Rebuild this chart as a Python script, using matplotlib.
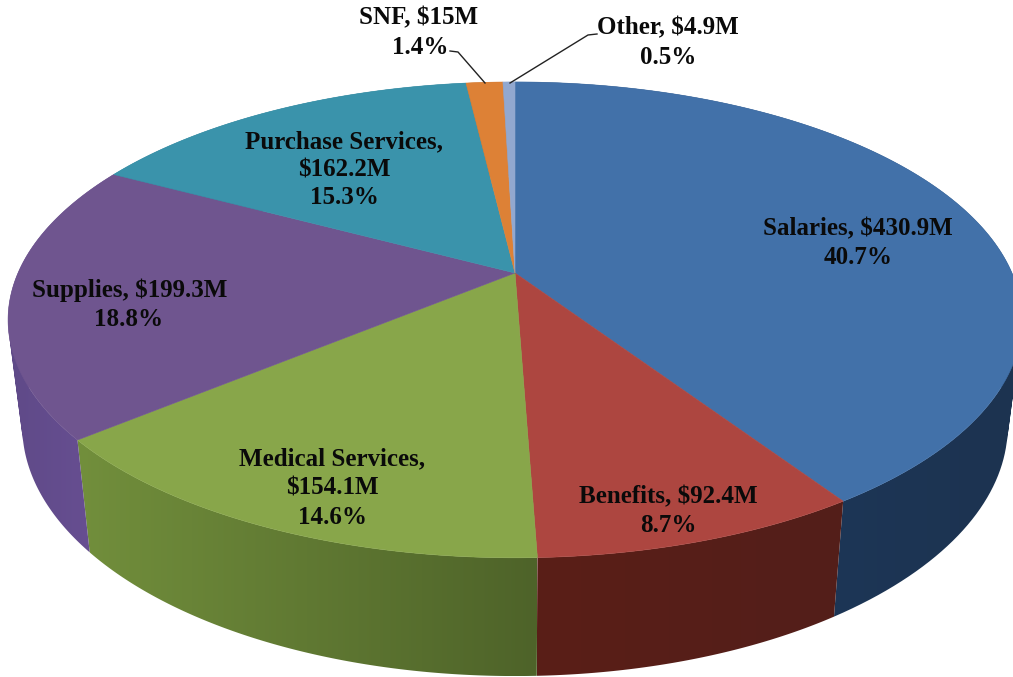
"""3D-look expense pie, projected by hand since matplotlib's pie is flat."""
import numpy as np
import matplotlib
matplotlib.use("Agg")
import matplotlib.pyplot as plt
from matplotlib.colors import to_rgb
from matplotlib.patches import PathPatch
from matplotlib.path import Path

W, H = 1013, 677

categories = ["Salaries", "Benefits", "Medical Services", "Supplies",
              "Purchase Services", "SNF", "Other"]
values = [430.9, 92.4, 154.1, 199.3, 162.2, 15.0, 4.9]
top_colors = ["#4271a9", "#ad4640", "#88a64a", "#6f558f", "#3a93ab", "#dd8136", "#92a8cf"]
# wall colour at the left and right end of each visible wall
wall_left = ["#1e3a60", "#5a1e17", "#728f3c", "#5f4a88", "#2a6f80", "#a8622a", "#6d7f9c"]
wall_right = ["#1c3350", "#531f1a", "#4e6329", "#6a5095", "#2a6f80", "#a8622a", "#6d7f9c"]

# one entry per text line: text, x centre, y centre
label_lines = [
    ("Salaries, $430.9M", 858, 229), ("40.7%", 858, 258),
    ("Benefits, $92.4M", 668, 497), ("8.7%", 668, 526),
    ("Medical Services,", 332, 459), ("$154.1M", 332, 488), ("14.6%", 332, 517),
    ("Supplies, $199.3M", 130, 290), ("18.8%", 129, 319),
    ("Purchase Services,", 344, 142), ("$162.2M", 344, 170), ("15.3%", 344, 198),
    ("SNF, $15M", 419, 18), ("1.4%", 420, 47),
    ("Other, $4.9M", 668, 28), ("0.5%", 668, 57),
]
leaders = [
    ([450, 458, 485], [51, 52, 83]),
    ([597, 588, 510], [34, 35, 83]),
]

# perspective of the disc, in figure pixels
CX, CY = 515, 273
RX, RY, K = 497, 228.7, 0.197
# lower rim of the wall relative to the top disc
SX, SY, DY = 0.972, 1.05, 104


def top_rim(theta):
    """Theta is clockwise from 12 o'clock, in radians."""
    den = 1 + K * np.cos(theta)
    return CX + RX * np.sin(theta) / den, CY - RY * np.cos(theta) / den


def bottom_rim(theta):
    x, y = top_rim(theta)
    return CX + SX * (x - CX), CY + DY + SY * (y - CY)


def wall_path(a0, a1):
    """Union of rim-to-rim quads, all wound the same way so folds stay filled."""
    t = np.linspace(a0, a1, 121)
    xt, yt = top_rim(t)
    xb, yb = bottom_rim(t)
    quads = []
    for j in range(len(t) - 1):
        q = np.array([[xt[j], yt[j]], [xt[j + 1], yt[j + 1]],
                      [xb[j + 1], yb[j + 1]], [xb[j], yb[j]]])
        x, y = q[:, 0], q[:, 1]
        area = np.sum(x * np.roll(y, -1) - np.roll(x, -1) * y)
        if area < 0:
            q = q[::-1]
        quads.append(Path(np.vstack([q, q[0]]), closed=True))
    return Path.make_compound_path(*quads)


def main():
    fig = plt.figure(figsize=(W / 100, H / 100), dpi=100)
    ax = fig.add_axes([0, 0, 1, 1])

    edges = np.concatenate([[0], np.cumsum(values)]) / sum(values) * 2 * np.pi

    # walls first, the top disc hides whatever is behind it
    for i in range(len(values)):
        path = wall_path(edges[i], edges[i + 1])
        xs, ys = path.vertices[:, 0], path.vertices[:, 1]
        c0, c1 = np.array(to_rgb(wall_left[i])), np.array(to_rgb(wall_right[i]))
        ramp = np.linspace(c0, c1, 256)[np.newaxis, :, :]
        patch = PathPatch(path, fc="none", ec="none")
        ax.add_patch(patch)
        im = ax.imshow(ramp, extent=(xs.min(), xs.max(), ys.max(), ys.min()),
                       aspect="auto", interpolation="bilinear", zorder=1)
        im.set_clip_path(patch)

    # top faces
    for i in range(len(values)):
        t = np.linspace(edges[i], edges[i + 1], 200)
        x, y = top_rim(t)
        ax.fill(np.r_[CX, x], np.r_[CY, y], color=top_colors[i], lw=0.4, zorder=2)

    for xs, ys in leaders:
        ax.plot(xs, ys, color="#222222", lw=1.0, zorder=3)

    for text, x, y in label_lines:
        ax.text(x, y, text, ha="center", va="center", fontsize=18, color="#0a0a0a",
                family="Liberation Serif", fontweight="bold", zorder=4)

    ax.set_xlim(0, W)
    ax.set_ylim(H, 0)
    ax.axis("off")

    fig.savefig("out.png", dpi=100)
    plt.close(fig)


if __name__ == "__main__":
    main()
